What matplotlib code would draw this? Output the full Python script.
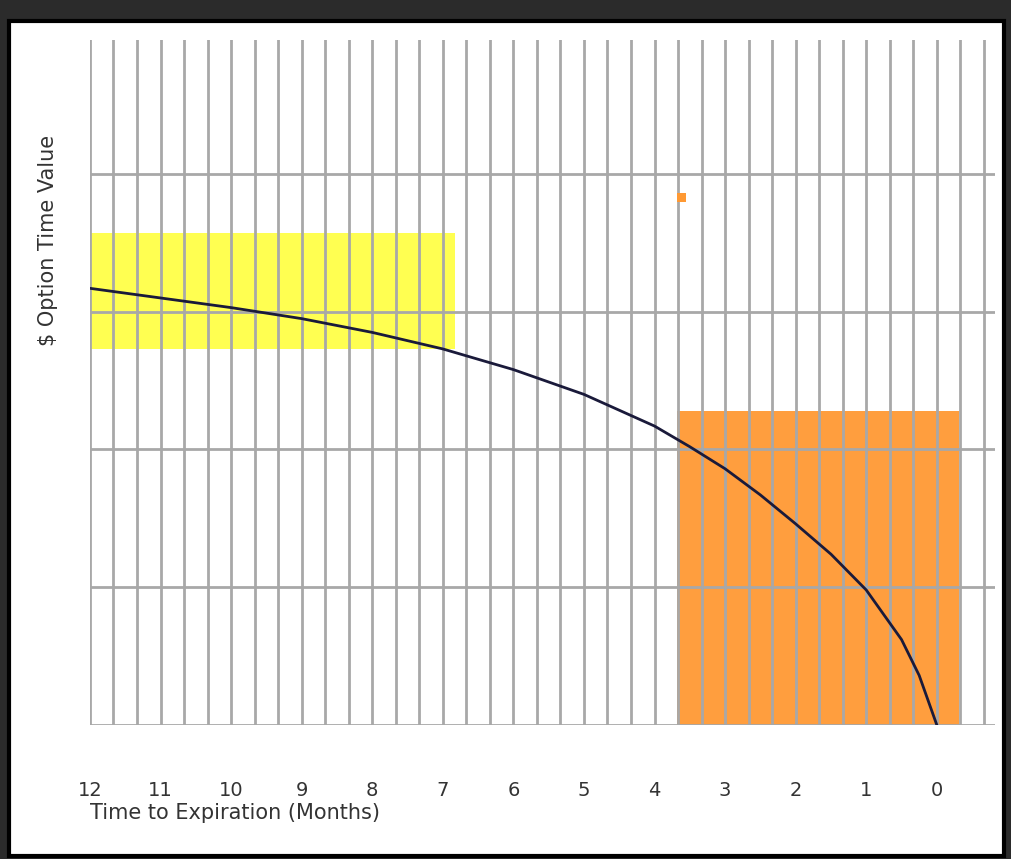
import matplotlib
matplotlib.use("Agg")
import matplotlib.pyplot as plt
import numpy as np
from matplotlib.patches import Rectangle

# curve: months to expiration vs time value
months = [12, 11, 10, 9, 8, 7, 6, 5, 4, 3.5, 3, 2.5, 2, 1.5, 1, 0.5, 0.25, 0]
time_value = [3.17, 3.1, 3.03, 2.95, 2.85, 2.73, 2.58, 2.4, 2.17, 2.02, 1.86, 1.67, 1.46, 1.24, 0.98, 0.62, 0.36, 0.0]
month_ticks = list(range(12, -1, -1))
value_lines = [0, 1, 2, 3, 4, 5]

yellow_box = (6.83, 12.0, 2.73, 3.57)   # x_right, x_left, y_bottom, y_top
orange_box = (-0.31, 3.68, 0.0, 2.28)
orange_dot = (3.6, 3.83)

fig = plt.figure(figsize=(10.12, 8.59), dpi=100, facecolor="#2b2b2b")
fig.patches.append(Rectangle((0.009, 0.004), 0.983, 0.972, transform=fig.transFigure,
                             facecolor="white", edgecolor="black", linewidth=3, zorder=-10))

ax = fig.add_axes([0.0889, 0.156, 0.894, 0.797])
ax.set_xlim(12, -0.82)
ax.set_ylim(0, 4.97)
for s in ax.spines.values():
    s.set_visible(False)
ax.patch.set_visible(False)

for xv in np.arange(12, -0.8, -1 / 3):
    ax.axvline(xv, color="#a8a8a8", linewidth=2, zorder=2)
for yv in value_lines:
    ax.axhline(yv, color="#a8a8a8", linewidth=2, zorder=2)

xr, xl, yb, yt = yellow_box
ax.add_patch(Rectangle((xr, yb), xl - xr, yt - yb, facecolor="#ffff33", alpha=0.85, edgecolor="none", zorder=1))
xr, xl, yb, yt = orange_box
ax.add_patch(Rectangle((xr, yb), xl - xr, yt - yb, facecolor="#ff9933", alpha=0.95, edgecolor="none", zorder=1))
ax.add_patch(Rectangle((orange_dot[0] - 0.04, orange_dot[1] - 0.03), 0.12, 0.06,
                       facecolor="#ff9933", edgecolor="none", zorder=3))

ax.plot(months, time_value, color="#1a1a3a", linewidth=2, zorder=4)

ax.set_xticks(month_ticks)
ax.set_xticklabels([str(m) for m in month_ticks], fontsize=14, color="#333333")
ax.tick_params(axis="x", length=0, pad=40)
ax.set_yticks([])

fig.text(0.089, 0.054, "Time to Expiration (Months)", fontsize=15, color="#333333", ha="left", va="center")
fig.text(0.047, 0.72, "$ Option Time Value", fontsize=15, color="#333333", rotation=90, ha="center", va="center")

fig.savefig("out.png", dpi=100, facecolor=fig.get_facecolor())
